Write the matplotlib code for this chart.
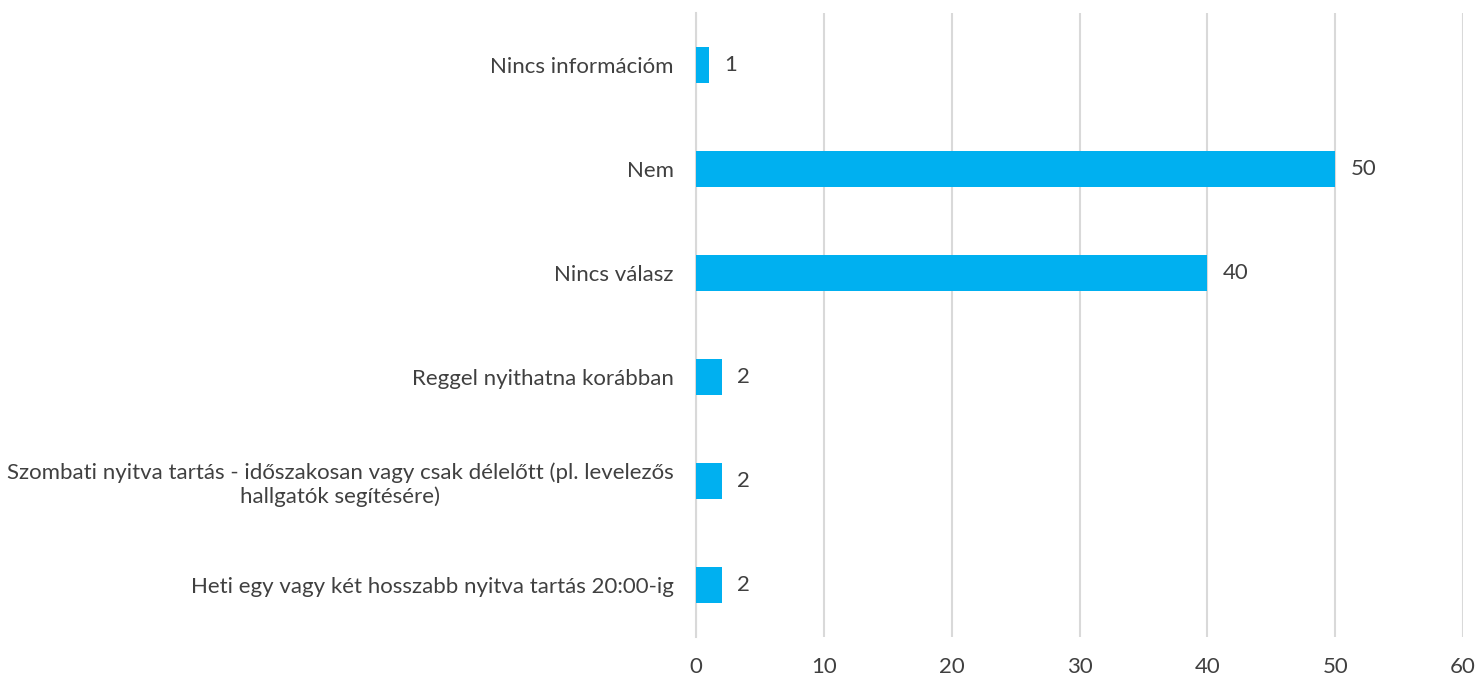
import matplotlib.pyplot as plt
import numpy as np

plt.rcParams['font.family'] = ['Lato', 'DejaVu Sans']

categories = [
    'Nincs információm',
    'Nem',
    'Nincs válasz',
    'Reggel nyithatna korábban',
    'Szombati nyitva tartás - időszakosan vagy csak délelőtt (pl. levelezős\nhallgatók segítésére)',
    'Heti egy vagy két hosszabb nyitva tartás 20:00-ig',
]
values = [1, 50, 40, 2, 2, 2]
xticks = [0, 10, 20, 30, 40, 50, 60]

bar_color = '#00B0F0'
text_color = '#404040'

fig = plt.figure(figsize=(14.78, 6.77), dpi=100)
ax = fig.add_axes([0.4709, 0.059, 0.519, 0.922])

y = np.arange(len(categories))
ax.barh(y, values, height=0.35, color=bar_color, zorder=3)

for yi, v in zip(y, values):
    ax.text(v + 1.2, yi, str(v), va='center', ha='left', fontsize=16, color=text_color)

ax.set_yticks(y)
ax.set_yticklabels(categories, fontsize=16, color=text_color, multialignment='center')
ax.set_ylim(len(categories) - 0.5, -0.5)
ax.set_xlim(0, 60)
ax.set_xticks(xticks)
ax.set_xticklabels([str(t) for t in xticks], fontsize=16, color=text_color)

ax.grid(axis='x', color='#D9D9D9', linewidth=1.5, zorder=0)
for s in ['top', 'right', 'bottom']:
    ax.spines[s].set_visible(False)
ax.spines['left'].set_color('#D9D9D9')
ax.spines['left'].set_linewidth(1.5)
ax.tick_params(axis='x', length=0, pad=14)
ax.tick_params(axis='y', length=0, pad=16)

fig.savefig('out.png', dpi=100)
